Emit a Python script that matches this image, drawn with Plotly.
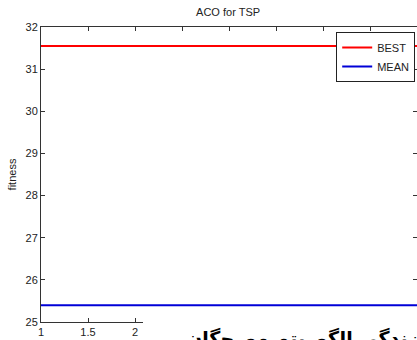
import plotly.graph_objects as go

iterations = [1, 2, 3, 4, 5]
best = [31.55, 31.55, 31.55, 31.55, 31.55]
mean = [25.40, 25.40, 25.40, 25.40, 25.40]
series_names = ["BEST", "MEAN"]
x_tick_values = [1, 1.5, 2, 2.5, 3, 3.5, 4, 4.5, 5]
x_tick_labels = ["1", "1.5", "2", "", "", "", "", "", ""]
title_text = "ACO for TSP"
y_label = "fitness"
caption = "زندگی الگوریتم مورچگان"

FONT = "Liberation Sans, Arial, DejaVu Sans, sans-serif"

fig = go.Figure()
fig.add_trace(go.Scatter(x=iterations, y=best, mode="lines", name=series_names[0],
                         line=dict(color="rgb(255,0,0)", width=2)))
fig.add_trace(go.Scatter(x=iterations, y=mean, mode="lines", name=series_names[1],
                         line=dict(color="rgb(0,0,215)", width=2)))

axis_common = dict(showline=True, linecolor="#333333", linewidth=1, mirror="ticks",
                   ticks="inside", ticklen=4, tickcolor="#333333", showgrid=False,
                   zeroline=False, tickfont=dict(family=FONT, size=11, color="#222222"))

fig.update_layout(
    width=417, height=340,
    margin=dict(l=41, r=0, t=27, b=18),
    paper_bgcolor="white", plot_bgcolor="white",
    title=dict(text=title_text, x=0.547, xanchor="center", y=1 - 12/340, yanchor="middle",
               font=dict(family=FONT, size=11, color="#222222")),
    xaxis=dict(range=[1, 5], tickmode="array", tickvals=x_tick_values, ticktext=x_tick_labels,
               **axis_common),
    yaxis=dict(range=[25, 32], dtick=1, tick0=25,
               title=dict(text=y_label, standoff=6, font=dict(family=FONT, size=11, color="#222222")),
               **axis_common),
    showlegend=True,
    legend=dict(x=415/417, xref="paper", xanchor="right", y=1 - 5/295, yanchor="top",
                bgcolor="white", bordercolor="#222222", borderwidth=1,
                font=dict(family=FONT, size=11, color="#222222"),
                tracegroupgap=0, itemwidth=30),
)

fig.add_shape(type="rect", xref="paper", yref="paper",
              x0=(143-41)/376, x1=1.02, y0=-0.2, y1=(322-314)/295,
              fillcolor="white", line=dict(width=0), layer="above")

fig.add_annotation(text="<b>" + caption + "</b>", xref="paper", yref="paper",
                   x=1.0, xanchor="right", xshift=4, y=0, yanchor="top", yshift=-3, showarrow=False,
                   font=dict(family="DejaVu Sans, sans-serif", size=19, color="black"))

fig.write_html("out.html")
